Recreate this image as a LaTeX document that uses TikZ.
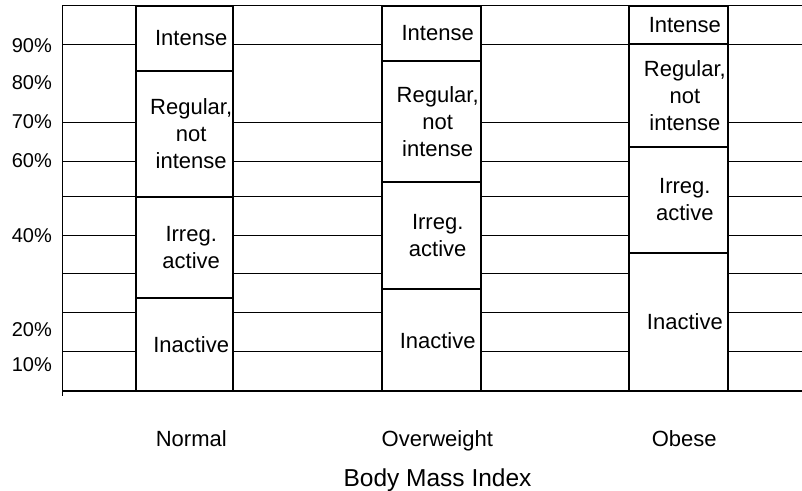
\documentclass[tikz,border=0pt]{standalone}
\usepackage{fontspec}
\setmainfont{Liberation Sans}
\usepackage{tikz}

\begin{document}
\begin{tikzpicture}[
    x=1pt, y=-1pt,
    grid/.style={line width=1pt},
    base/.style={line width=2pt},
    seg/.style={rectangle, draw, fill=white, line width=2pt, inner sep=0pt, outer sep=0pt},
    txt/.style={align=center, font=\fontsize{22}{27}\selectfont, inner sep=0pt},
    tick/.style={anchor=base east, font=\fontsize{20}{24}\selectfont, inner sep=0pt},
    cat/.style={anchor=base, font=\fontsize{22}{27}\selectfont, inner sep=0pt}
]
    \useasboundingbox (0,0) rectangle (802,490);

    % Grid
    \draw[grid] (62,5.7) -- (802,5.7);
    \draw[grid] (62,44) -- (802,44);
    \draw[grid] (62,122) -- (802,122);
    \draw[grid] (62,161) -- (802,161);
    \draw[grid] (62,196.5) -- (802,196.5);
    \draw[grid] (62,235) -- (802,235);
    \draw[grid] (62,273) -- (802,273);
    \draw[grid] (62,312) -- (802,312);
    \draw[grid] (62,351) -- (802,351);
    \draw[grid] (62,5.7) -- (62,396);
    \draw[base] (62,391) -- (802,391);

    % Tick labels
    \node[tick] (p90) at (52,52) {90\%};
    \node[tick] (p80) at (52,89) {80\%};
    \node[tick] (p70) at (52,128) {70\%};
    \node[tick] (p60) at (52,167) {60\%};
    \node[tick] (p40) at (52,242) {40\%};
    \node[tick] (p20) at (52,336) {20\%};
    \node[tick] (p10) at (52,371.7) {10\%};

    % Normal
    \node[seg, minimum width=97.3, minimum height=65.6] (nInt) at (184.7,38.5) {};
    \node[seg, minimum width=97.3, minimum height=125.4] (nReg) at (184.7,134) {};
    \node[seg, minimum width=97.3, minimum height=101] (nIrr) at (184.7,247.2) {};
    \node[seg, minimum width=97.3, minimum height=93.3] (nIna) at (184.7,344.35) {};
    \node[txt] (nIntT) at ([xshift=6.5]nInt.center) {Intense};
    \node[txt] (nRegT) at ([xshift=6.5]nReg.center) {Regular,\\not\\intense};
    \node[txt] (nIrrT) at ([xshift=6.5]nIrr.center) {Irreg.\\active};
    \node[txt] (nInaT) at ([xshift=6.5]nIna.center) {Inactive};

    % Overweight
    \node[seg, minimum width=99, minimum height=55.3] (oInt) at (431.2,33.35) {};
    \node[seg, minimum width=99, minimum height=121] (oReg) at (431.2,121.5) {};
    \node[seg, minimum width=99, minimum height=107.3] (oIrr) at (431.2,235.65) {};
    \node[seg, minimum width=99, minimum height=101.7] (oIna) at (431.2,340.15) {};
    \node[txt] (oIntT) at ([xshift=6.5]oInt.center) {Intense};
    \node[txt] (oRegT) at ([xshift=6.5]oReg.center) {Regular,\\not\\intense};
    \node[txt] (oIrrT) at ([xshift=6.5]oIrr.center) {Irreg.\\active};
    \node[txt] (oInaT) at ([xshift=6.5]oIna.center) {Inactive};

    % Obese
    \node[seg, minimum width=99.3, minimum height=38.6] (bInt) at (678.35,25) {};
    \node[seg, minimum width=99.3, minimum height=102.4] (bReg) at (678.35,95.5) {};
    \node[seg, minimum width=99.3, minimum height=106] (bIrr) at (678.35,199.7) {};
    \node[seg, minimum width=99.3, minimum height=138.3] (bIna) at (678.35,321.85) {};
    \node[txt] (bIntT) at ([xshift=6.5]bInt.center) {Intense};
    \node[txt] (bRegT) at ([xshift=6.5]bReg.center) {Regular,\\not\\intense};
    \node[txt] (bIrrT) at ([xshift=6.5]bIrr.center) {Irreg.\\active};
    \node[txt] (bInaT) at ([xshift=6.5]bIna.center) {Inactive};

    % Categories
    \node[cat] (normal) at (191.3,446) {Normal};
    \node[cat] (overweight) at (437.3,446) {Overweight};
    \node[cat] (obese) at (684.2,446) {Obese};
    \node[cat, font=\fontsize{24.5}{29}\selectfont] (bmi) at (437.5,486) {Body Mass Index};
\end{tikzpicture}
\end{document}
